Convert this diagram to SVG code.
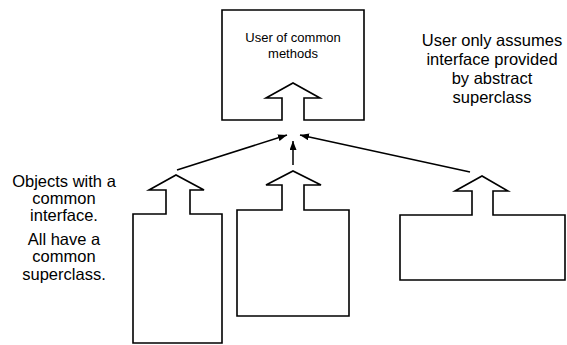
<svg xmlns="http://www.w3.org/2000/svg" width="567" height="345" viewBox="0 0 567 345">
  <style>
    .shape { fill: none; stroke: #000; stroke-width: 1.6; stroke-linejoin: miter; }
    .link { fill: none; stroke: #000; stroke-width: 1.5; }
    .label { font-family: "Liberation Sans", Arial, sans-serif; fill: #000; text-anchor: middle; }
    .small { font-size: 13px; }
    .big { font-size: 16.5px; }
  </style>
  <defs>
    <marker id="head" markerUnits="userSpaceOnUse" markerWidth="9" markerHeight="7" refX="9" refY="3.5" orient="auto">
      <path d="M0,0 L9,3.5 L0,7 z" fill="#000"/>
    </marker>
  </defs>
  <rect width="567" height="345" fill="#fff"/>

  <!-- client box with its inward interface arrow -->
  <g id="user">
    <path class="shape" d="M282,120 L222,120 L222,10 L364,10 L364,120 L304,120 L304,98 L320,98 L293,83 L266,98 L282,98 Z"/>
    <text class="label small" x="293" y="42">User of common</text>
    <text class="label small" x="293" y="58">methods</text>
  </g>

  <!-- implementing objects, each exposing the shared interface -->
  <g id="obj-left">
    <path class="shape" d="M166,214 L166,190 L149,190 L176,175 L204,190 L190,190 L190,214 L222,214 L222,343 L133,343 L133,214 Z"/>
  </g>
  <g id="obj-middle">
    <path class="shape" d="M282,210 L282,185 L266,185 L293,171 L321,185 L304,185 L304,210 L349,210 L349,316 L237,316 L237,210 Z"/>
  </g>
  <g id="obj-right">
    <path class="shape" d="M472,215 L472,191 L455,191 L482,176 L508,191 L493,191 L493,215 L565,215 L565,280 L400,280 L400,215 Z"/>
  </g>

  <g id="connectors">
    <line class="link" x1="177" y1="170" x2="287" y2="135" marker-end="url(#head)"/>
    <line class="link" x1="293" y1="165" x2="293" y2="141" marker-end="url(#head)"/>
    <line class="link" x1="470" y1="172" x2="300" y2="135" marker-end="url(#head)"/>
  </g>

  <g id="note-interface">
    <text class="label big" x="492" y="46">User only assumes</text>
    <text class="label big" x="492" y="65">interface provided</text>
    <text class="label big" x="492" y="84">by abstract</text>
    <text class="label big" x="492" y="103">superclass</text>
  </g>

  <g id="note-objects">
    <text class="label big" x="64" y="187">Objects with a</text>
    <text class="label big" x="64" y="204">common</text>
    <text class="label big" x="64" y="221">interface.</text>
    <text class="label big" x="64" y="245">All have a</text>
    <text class="label big" x="64" y="262">common</text>
    <text class="label big" x="64" y="280">superclass.</text>
  </g>
</svg>
